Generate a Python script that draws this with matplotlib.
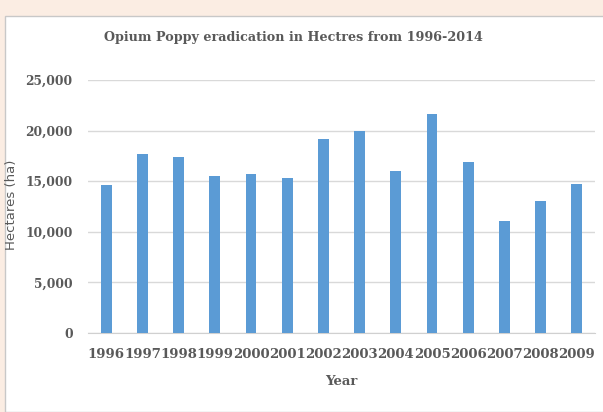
import matplotlib
matplotlib.use("Agg")
import matplotlib.pyplot as plt
from matplotlib.patches import Rectangle
from matplotlib.ticker import FuncFormatter

# data
years = ["1996", "1997", "1998", "1999", "2000", "2001", "2002",
         "2003", "2004", "2005", "2006", "2007", "2008", "2009"]
hectares = [14600, 17700, 17400, 15500, 15700, 15300, 19200,
            20000, 16000, 21600, 16870, 11060, 13040, 14760]
yticks = [0, 5000, 10000, 15000, 20000, 25000]

text_col = "#595959"
bar_col = "#5b9bd5"

fig = plt.figure(figsize=(6.03, 4.12), dpi=100)
fig.patch.set_facecolor("#fbede3")

# white chart panel
panel = Rectangle((5 / 603, 0), 1, 1 - 16 / 412, transform=fig.transFigure,
                  facecolor="white", edgecolor="#c8c8c8", linewidth=1.0, zorder=-5)
fig.patches.append(panel)

ax = fig.add_axes([88 / 603, 1 - 333 / 412, (595 - 88) / 603, (333 - 80) / 412])
ax.set_facecolor("none")

x = range(len(years))
ax.bar(x, hectares, width=0.3, color=bar_col, zorder=3)

ax.set_xlim(-0.5, len(years) - 0.5)
ax.set_ylim(0, 25000)
ax.set_yticks(yticks)
ax.yaxis.set_major_formatter(FuncFormatter(lambda v, p: f"{int(v):,}"))
ax.set_xticks(list(x))
ax.set_xticklabels(years)

ax.grid(axis="y", color="#d9d9d9", linewidth=1.0, zorder=0)
for s in ["top", "right", "left"]:
    ax.spines[s].set_visible(False)
ax.spines["bottom"].set_color("#d0d0d0")
ax.tick_params(axis="both", length=0, colors=text_col)
ax.tick_params(axis="y", pad=11)
ax.tick_params(axis="x", pad=11)

serif = "DejaVu Serif"
for lab in ax.get_xticklabels():
    lab.set_fontfamily(serif)
    lab.set_fontsize(9.5)
    lab.set_fontweight("bold")
for lab in ax.get_yticklabels():
    lab.set_fontfamily(serif)
    lab.set_fontsize(8.8)
    lab.set_fontweight("bold")

ax.set_xlabel("Year", fontfamily=serif, fontsize=9.5, fontweight="bold",
              color=text_col, labelpad=10)
fig.text(12 / 603, 1 - 205 / 412, "Hectares (ha)", rotation=90, ha="center",
         va="center", fontsize=9.5, color=text_col, fontfamily="DejaVu Sans")
fig.text(293 / 603, 1 - 38 / 412, "Opium Poppy eradication in Hectres from 1996-2014",
         ha="center", va="center", fontsize=9.2, fontweight="bold",
         fontfamily=serif, color=text_col)

fig.savefig("out.png", dpi=100, facecolor=fig.get_facecolor())
